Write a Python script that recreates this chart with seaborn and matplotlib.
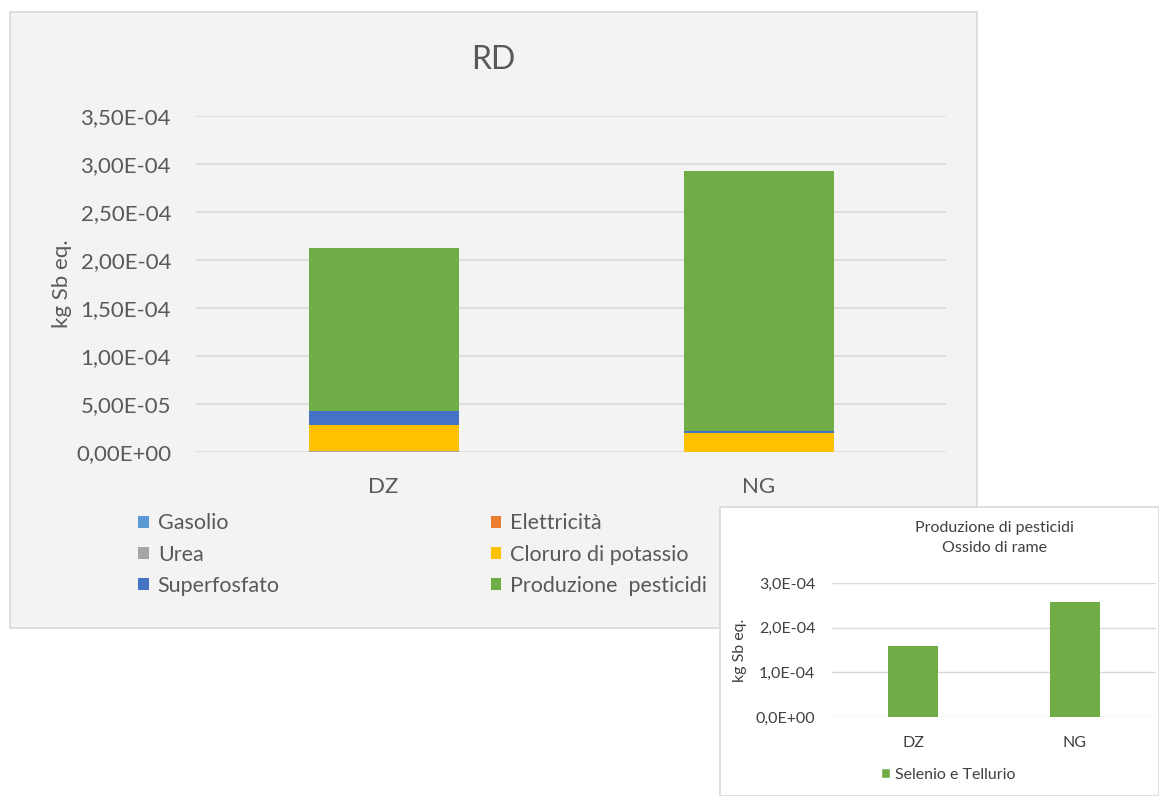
import numpy as np
import pandas as pd
import matplotlib.pyplot as plt
import seaborn as sns
from matplotlib.patches import Rectangle, Patch
from matplotlib.ticker import FuncFormatter, MultipleLocator

# data
sites = ["DZ", "NG"]
gasolio = [3e-7, 2e-7]
elettricita = [1e-7, 1e-7]
urea = [4e-7, 2e-7]
cloruro_potassio = [2.75e-5, 1.95e-5]
superfosfato = [1.45e-5, 2.2e-6]
produzione_pesticidi = [1.70e-4, 2.71e-4]

layer_names = ["Gasolio", "Elettricità", "Urea", "Cloruro di potassio",
               "Superfosfato", "Produzione  pesticidi"]
layer_colors = ["#5B9BD5", "#ED7D31", "#A5A5A5", "#FFC000", "#4472C4", "#70AD47"]

# inset: pesticide production, copper oxide
inset_series = "Selenio e Tellurio"
selenio_tellurio = [1.60e-4, 2.58e-4]

sns.set_theme(style="white")
plt.rcParams["font.family"] = ["Lato", "DejaVu Sans"]
txt = "#595959"
grid_c = "#d9d9d9"

fig = plt.figure(figsize=(11.59, 7.96), dpi=100)
fig.patch.set_facecolor("white")

# chart area boxes
W, H = 1159, 796
fig.patches.append(Rectangle((10 / W, 1 - 628 / H), 967 / W, 616 / H, transform=fig.transFigure,
                             facecolor="#f3f3f3", edgecolor="#d9d9d9", linewidth=1.2, zorder=-1))

ax = fig.add_axes([196 / W, 1 - 452 / H, 750 / W, 336 / H])
ax.set_zorder(2)
ax.set_facecolor("none")

df = pd.DataFrame({"site": sites, "Gasolio": gasolio, "Elettricità": elettricita, "Urea": urea,
                   "Cloruro di potassio": cloruro_potassio, "Superfosfato": superfosfato,
                   "Produzione  pesticidi": produzione_pesticidi})
cum = df[layer_names].cumsum(axis=1)
for name, col in reversed(list(zip(layer_names, layer_colors))):
    sns.barplot(x=df["site"], y=cum[name], color=col, width=0.4, saturation=1,
                linewidth=0, ax=ax, zorder=3)

ax.set_ylim(0, 3.5e-4)
ax.set_xlim(-0.5, 1.5)
ax.yaxis.set_major_locator(MultipleLocator(5e-5))
ax.yaxis.set_major_formatter(FuncFormatter(lambda v, p: f"{v:.2E}".replace(".", ",")))
ax.grid(axis="y", color=grid_c, linewidth=1.2, zorder=0)
for s in ax.spines.values():
    s.set_visible(False)
ax.tick_params(axis="y", length=0, pad=18, labelsize=16, labelcolor=txt)
ax.tick_params(axis="x", length=0, pad=18, labelsize=16, labelcolor=txt)
ax.set_xlabel("")
ax.set_ylabel("kg Sb eq.", fontsize=16, color=txt)
ax.yaxis.set_label_coords(-0.166, 0.5)
fig.text(493 / W, 1 - 60 / H, "RD", ha="center", va="center", fontsize=23, color=txt)

# legend in row-major order like the original (matplotlib fills by column)
handles = [Patch(facecolor=c, edgecolor="none") for c in layer_colors]
order = [0, 2, 4, 1, 3, 5]
fig.legend([handles[i] for i in order], [layer_names[i] for i in order], ncol=2,
           loc="upper left", bbox_to_anchor=(119 / W, 1 - 494 / H), frameon=False,
           fontsize=15.5, labelcolor=txt, handlelength=0.5, handleheight=0.5,
           handletextpad=0.4, columnspacing=9.8, labelspacing=0.52)

# inset chart
fig.patches.append(Rectangle((720 / W, 0), 439 / W, 289 / H, transform=fig.transFigure,
                             facecolor="white", edgecolor="#d9d9d9", linewidth=1.2, zorder=5))
ax2 = fig.add_axes([832 / W, 1 - 717 / H, 324 / W, 134 / H])
ax2.set_zorder(6)
ax2.set_facecolor("none")
sns.barplot(x=sites, y=selenio_tellurio, color="#70AD47", width=0.31, saturation=1,
            linewidth=0, ax=ax2, zorder=3)
ax2.set_ylim(0, 3e-4)
ax2.set_xlim(-0.5, 1.5)
ax2.yaxis.set_major_locator(MultipleLocator(1e-4))
ax2.yaxis.set_major_formatter(FuncFormatter(lambda v, p: f"{v:.1E}".replace(".", ",")))
ax2.grid(axis="y", color=grid_c, linewidth=1, zorder=0)
for s in ax2.spines.values():
    s.set_visible(False)
ax2.tick_params(axis="y", length=0, pad=12, labelsize=11.5, labelcolor="#404040")
ax2.tick_params(axis="x", length=0, pad=14, labelsize=11.5, labelcolor="#404040")
ax2.set_ylabel("kg Sb eq.", fontsize=11.5, color="#404040", labelpad=6)
ax2.text(0.5, 1 + 45 / 134, "Produzione di pesticidi\nOssido di rame", transform=ax2.transAxes,
         ha="center", va="center", fontsize=11.5, color="#404040", linespacing=1.5)
ax2.legend([Patch(facecolor="#70AD47")], [inset_series], loc="center",
           bbox_to_anchor=(948 / W, 1 - 775 / H), bbox_transform=fig.transFigure,
           frameon=False, fontsize=11.5, labelcolor="#404040", handlelength=0.6,
           handleheight=0.6, handletextpad=0.3)

fig.savefig("out.png", dpi=100)
